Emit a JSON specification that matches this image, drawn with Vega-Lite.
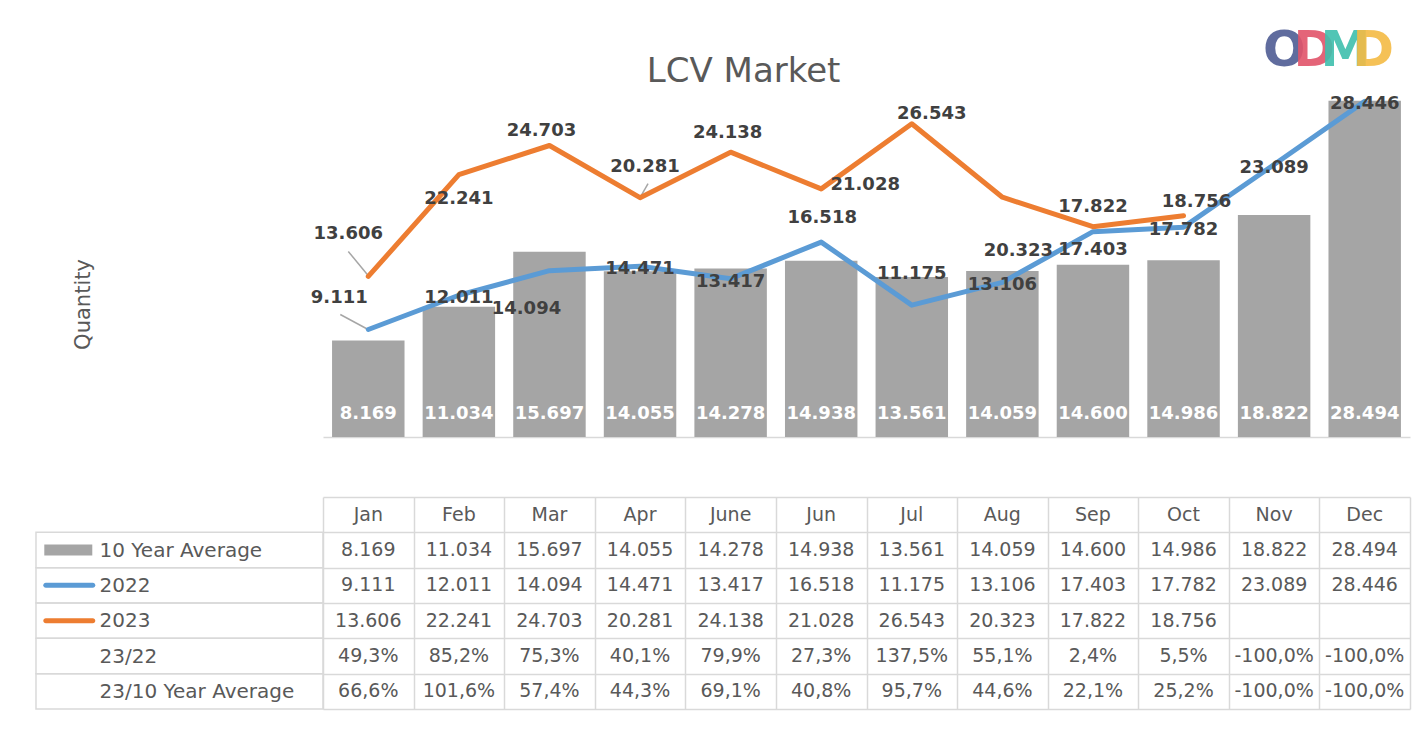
{
  "$schema": "https://vega.github.io/schema/vega-lite/v6.json",
  "padding": {"left": 35, "top": 26, "right": 5, "bottom": 5},
  "background": "white",
  "data": {"values": [
    {"month": "Jan", "avg": 8169, "y2022": 9111, "y2023": 13606, "r2322": 0.493, "r23avg": 0.666},
    {"month": "Feb", "avg": 11034, "y2022": 12011, "y2023": 22241, "r2322": 0.852, "r23avg": 1.016},
    {"month": "Mar", "avg": 15697, "y2022": 14094, "y2023": 24703, "r2322": 0.753, "r23avg": 0.574},
    {"month": "Apr", "avg": 14055, "y2022": 14471, "y2023": 20281, "r2322": 0.401, "r23avg": 0.443},
    {"month": "June", "avg": 14278, "y2022": 13417, "y2023": 24138, "r2322": 0.799, "r23avg": 0.691},
    {"month": "Jun", "avg": 14938, "y2022": 16518, "y2023": 21028, "r2322": 0.273, "r23avg": 0.408},
    {"month": "Jul", "avg": 13561, "y2022": 11175, "y2023": 26543, "r2322": 1.375, "r23avg": 0.957},
    {"month": "Aug", "avg": 14059, "y2022": 13106, "y2023": 20323, "r2322": 0.551, "r23avg": 0.446},
    {"month": "Sep", "avg": 14600, "y2022": 17403, "y2023": 17822, "r2322": 0.024, "r23avg": 0.221},
    {"month": "Oct", "avg": 14986, "y2022": 17782, "y2023": 18756, "r2322": 0.055, "r23avg": 0.252},
    {"month": "Nov", "avg": 18822, "y2022": 23089, "y2023": null, "r2322": -1.0, "r23avg": -1.0},
    {"month": "Dec", "avg": 28494, "y2022": 28446, "y2023": null, "r2322": -1.0, "r23avg": -1.0}
  ]},
  "spacing": 50,
  "vconcat": [
    {
      "width": 1087,
      "height": 354,
      "encoding": {
        "x": {"field": "month", "type": "nominal",
              "sort": ["Jan","Feb","Mar","Apr","June","Jun","Jul","Aug","Sep","Oct","Nov","Dec"],
              "scale": {"paddingInner": 0.2, "paddingOuter": 0.1},
              "axis": {"labels": false, "ticks": false, "domain": true, "domainColor": "#d9d9d9", "domainWidth": 1.5, "grid": false, "title": null}}
      },
      "layer": [
        {"mark": {"type": "bar", "color": "#a5a5a5"},
         "encoding": {"y": {"field": "avg", "type": "quantitative", "title": "Quantity",
           "scale": {"domain": [0, 29000]},
           "axis": {"labels": false, "ticks": false, "domain": false, "grid": false, "titleFontSize": 21, "titleFontWeight": "normal", "titleColor": "#595959", "titlePadding": 230, "titleY": 221}}}},
        {"mark": {"type": "text", "color": "white", "fontWeight": "bold", "fontSize": 18, "dy": -23},
         "encoding": {"y": {"datum": 0, "type": "quantitative"}, "text": {"field": "avg", "type": "quantitative", "format": ",d"}}},
        {"transform": [{"filter": {"field": "month", "equal": "Jan"}}],
         "mark": {"type": "rule", "color": "#a6a6a6", "strokeWidth": 1.5, "xOffset": -2, "yOffset": -1, "x2Offset": -28, "y2Offset": -15},
         "encoding": {"x2": {"field": "month"}, "y": {"field": "y2022", "type": "quantitative", "title": "Quantity"}, "y2": {"field": "y2022"}}},
        {"transform": [{"filter": {"field": "month", "equal": "Jan"}}],
         "mark": {"type": "rule", "color": "#a6a6a6", "strokeWidth": 1.5, "xOffset": -1, "yOffset": -2, "x2Offset": -20, "y2Offset": -25},
         "encoding": {"x2": {"field": "month"}, "y": {"field": "y2023", "type": "quantitative", "title": "Quantity"}, "y2": {"field": "y2023"}}},
        {"transform": [{"filter": {"field": "month", "equal": "Apr"}}],
         "mark": {"type": "rule", "color": "#a6a6a6", "strokeWidth": 1.5, "xOffset": 0, "yOffset": 0, "x2Offset": 8, "y2Offset": -14},
         "encoding": {"x2": {"field": "month"}, "y": {"field": "y2023", "type": "quantitative", "title": "Quantity"}, "y2": {"field": "y2023"}}},
        {"mark": {"type": "line", "color": "#5b9bd5", "strokeWidth": 5, "strokeCap": "round", "strokeJoin": "round"},
         "encoding": {"y": {"field": "y2022", "type": "quantitative", "title": "Quantity"}}},
        {"mark": {"type": "line", "color": "#ed7d31", "strokeWidth": 5, "strokeCap": "round", "strokeJoin": "round"},
         "encoding": {"y": {"field": "y2023", "type": "quantitative", "title": "Quantity"}}},
        {"encoding": {"y": {"field": "y2022", "type": "quantitative", "title": "Quantity"}, "text": {"field": "y2022", "type": "quantitative", "format": ",d"}},
         "layer": [
           {"transform": [{"filter": {"field": "month", "oneOf": ["Feb","Apr","June","Aug","Oct","Nov","Dec"]}}], "mark": {"type": "text", "style": "lbl", "dy": 3}},
           {"transform": [{"filter": {"field": "month", "equal": "Jan"}}], "mark": {"type": "text", "style": "lbl", "dx": -29, "dy": -31}},
           {"transform": [{"filter": {"field": "month", "equal": "Mar"}}], "mark": {"type": "text", "style": "lbl", "dx": -23, "dy": 38}},
           {"transform": [{"filter": {"field": "month", "equal": "Jun"}}], "mark": {"type": "text", "style": "lbl", "dx": 1, "dy": -24}},
           {"transform": [{"filter": {"field": "month", "equal": "Jul"}}], "mark": {"type": "text", "style": "lbl", "dx": 0, "dy": -31}},
           {"transform": [{"filter": {"field": "month", "equal": "Sep"}}], "mark": {"type": "text", "style": "lbl", "dx": 0, "dy": 18}}
         ]},
        {"encoding": {"y": {"field": "y2023", "type": "quantitative", "title": "Quantity"}, "text": {"field": "y2023", "type": "quantitative", "format": ",d"}},
         "layer": [
           {"transform": [{"filter": {"field": "month", "equal": "Jan"}}], "mark": {"type": "text", "style": "lbl", "dx": -20, "dy": -42}},
           {"transform": [{"filter": {"field": "month", "equal": "Feb"}}], "mark": {"type": "text", "style": "lbl", "dx": 0, "dy": 24}},
           {"transform": [{"filter": {"field": "month", "equal": "Mar"}}], "mark": {"type": "text", "style": "lbl", "dx": -8, "dy": -15}},
           {"transform": [{"filter": {"field": "month", "equal": "Apr"}}], "mark": {"type": "text", "style": "lbl", "dx": 5, "dy": -31}},
           {"transform": [{"filter": {"field": "month", "equal": "June"}}], "mark": {"type": "text", "style": "lbl", "dx": -3, "dy": -19}},
           {"transform": [{"filter": {"field": "month", "equal": "Jun"}}], "mark": {"type": "text", "style": "lbl", "dx": 44, "dy": -4}},
           {"transform": [{"filter": {"field": "month", "equal": "Jul"}}], "mark": {"type": "text", "style": "lbl", "dx": 20, "dy": -10}},
           {"transform": [{"filter": {"field": "month", "equal": "Aug"}}], "mark": {"type": "text", "style": "lbl", "dx": 16, "dy": 54}},
           {"transform": [{"filter": {"field": "month", "equal": "Sep"}}], "mark": {"type": "text", "style": "lbl", "dx": 0, "dy": -20}},
           {"transform": [{"filter": {"field": "month", "equal": "Oct"}}], "mark": {"type": "text", "style": "lbl", "dx": 13, "dy": -14}}
         ]},
        {"transform": [{"filter": {"field": "month", "equal": "Jan"}}],
         "mark": {"type": "text", "text": "LCV Market", "fontSize": 34, "color": "#595959", "baseline": "middle", "align": "center", "dx": 13},
         "encoding": {"x": {"datum": "June", "type": "nominal"}, "y": {"datum": 30960, "type": "quantitative"}}},
        {"transform": [{"filter": {"field": "month", "equal": "Jan"}}],
         "mark": {"type": "text", "style": "logo", "text": "O", "color": "#4f5d94", "dx": 916},
         "encoding": {"x": {"datum": "Jan", "type": "nominal"}, "y": {"datum": 32710, "type": "quantitative"}}},
        {"transform": [{"filter": {"field": "month", "equal": "Jan"}}],
         "mark": {"type": "text", "style": "logo", "text": "D", "color": "#e2546a", "dx": 946},
         "encoding": {"x": {"datum": "Jan", "type": "nominal"}, "y": {"datum": 32710, "type": "quantitative"}}},
        {"transform": [{"filter": {"field": "month", "equal": "Jan"}}],
         "mark": {"type": "text", "style": "logo", "text": "M", "color": "#3fbfad", "dx": 977},
         "encoding": {"x": {"datum": "Jan", "type": "nominal"}, "y": {"datum": 32710, "type": "quantitative"}}},
        {"transform": [{"filter": {"field": "month", "equal": "Jan"}}],
         "mark": {"type": "text", "style": "logo", "text": "D", "color": "#f4bb44", "dx": 1005},
         "encoding": {"x": {"datum": "Jan", "type": "nominal"}, "y": {"datum": 32710, "type": "quantitative"}}}
      ]
    },
    {
      "width": 1087,
      "height": 212,
      "encoding": {
        "x": {"field": "month", "type": "nominal",
              "sort": ["Jan","Feb","Mar","Apr","June","Jun","Jul","Aug","Sep","Oct","Nov","Dec"],
              "scale": {"paddingInner": 0, "paddingOuter": 0},
              "axis": {"grid": true, "tickBand": "extent", "labels": false, "ticks": false, "domain": false, "title": null, "gridColor": "#d9d9d9", "gridWidth": 1.5}}
      },
      "layer": [
        {"mark": {"type": "text", "style": "tcell"},
         "encoding": {
           "y": {"datum": "hdr", "type": "nominal", "title": null,
                 "scale": {"domain": ["hdr","avg","y2022","y2023","r2322","r23avg"], "paddingInner": 0, "paddingOuter": 0},
                 "axis": {"grid": true, "tickBand": "extent", "ticks": false, "domain": false, "gridColor": "#d9d9d9", "gridWidth": 1.5,
                          "labelAlign": "left", "labelPadding": 224, "labelFontSize": 20, "labelColor": "#595959", "labelLimit": 0,
                          "labelExpr": "datum.value == 'avg' ? '10 Year Average' : datum.value == 'y2022' ? '2022' : datum.value == 'y2023' ? '2023' : datum.value == 'r2322' ? '23/22' : datum.value == 'r23avg' ? '23/10 Year Average' : ''"}},
           "text": {"field": "month", "type": "nominal"}}},
        {"transform": [{"fold": ["avg","y2022","y2023"], "as": ["row","val"]}, {"filter": "isValid(datum.val)"}],
         "mark": {"type": "text", "style": "tcell"},
         "encoding": {"y": {"field": "row", "type": "nominal", "title": null}, "text": {"field": "val", "type": "quantitative", "format": ",d"}}},
        {"transform": [{"fold": ["r2322","r23avg"], "as": ["row","val"]}, {"filter": "isValid(datum.val)"}],
         "mark": {"type": "text", "style": "tcell"},
         "encoding": {"y": {"field": "row", "type": "nominal", "title": null}, "text": {"field": "val", "type": "quantitative", "format": ".1%"}}},
        {"transform": [{"filter": {"field": "month", "equal": "Jan"}}, {"fold": ["avg","y2022","y2023","r2322","r23avg"], "as": ["row","val"]}],
         "mark": {"type": "rect", "width": 287, "xOffset": -188.8, "fillOpacity": 0, "stroke": "#d9d9d9", "strokeWidth": 1.5},
         "encoding": {"x": {"datum": "Jan", "type": "nominal"}, "y": {"field": "row", "type": "nominal", "title": null}}},
        {"transform": [{"filter": {"field": "month", "equal": "Jan"}}],
         "mark": {"type": "tick", "orient": "horizontal", "size": 48, "thickness": 11, "color": "#a5a5a5", "opacity": 1, "xOffset": -300},
         "encoding": {"x": {"datum": "Jan", "type": "nominal"}, "y": {"datum": "avg", "type": "nominal", "title": null}}},
        {"transform": [{"filter": {"field": "month", "equal": "Jan"}}],
         "mark": {"type": "tick", "orient": "horizontal", "size": 52, "thickness": 5, "cornerRadius": 2.5, "color": "#5b9bd5", "opacity": 1, "xOffset": -299},
         "encoding": {"x": {"datum": "Jan", "type": "nominal"}, "y": {"datum": "y2022", "type": "nominal", "title": null}}},
        {"transform": [{"filter": {"field": "month", "equal": "Jan"}}],
         "mark": {"type": "tick", "orient": "horizontal", "size": 52, "thickness": 5, "cornerRadius": 2.5, "color": "#ed7d31", "opacity": 1, "xOffset": -299},
         "encoding": {"x": {"datum": "Jan", "type": "nominal"}, "y": {"datum": "y2023", "type": "nominal", "title": null}}}
      ]
    }
  ],
  "config": {
    "font": "DejaVu Sans",
    "view": {"stroke": null},
    "locale": {"number": {"decimal": ",", "thousands": ".", "grouping": [3], "currency": ["", ""], "minus": "-"}},
    "style": {
      "lbl": {"fontSize": 18, "fontWeight": "bold", "color": "#404040", "baseline": "middle", "align": "center"},
      "tcell": {"fontSize": 19, "color": "#595959", "baseline": "middle", "align": "center"},
      "logo": {"fontSize": 50, "fontWeight": "bold", "baseline": "middle", "align": "center", "opacity": 0.9}
    }
  }
}
